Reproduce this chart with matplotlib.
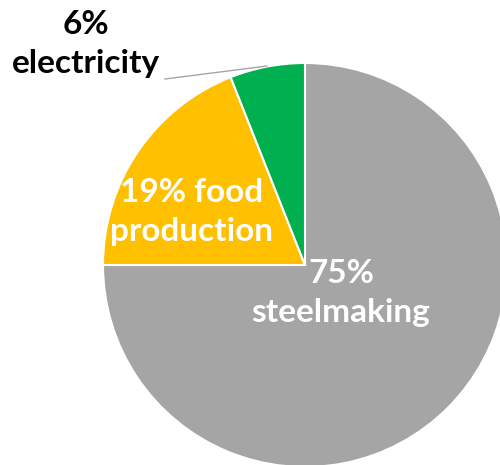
import matplotlib.pyplot as plt

labels = ["75%\nsteelmaking", "19% food\nproduction", "6%\nelectricity"]
shares = [75, 19, 6]
colors = ["#A5A5A5", "#FFC000", "#00B050"]

plt.rcParams['font.family'] = ['Lato', 'DejaVu Sans']

fig = plt.figure(figsize=(5, 4.65), dpi=100)
ax = fig.add_axes([0, 0, 1, 1])

cx, cy, r = 305, 200, 202
wedges, _ = ax.pie(shares, colors=colors, startangle=90, counterclock=False,
                   center=(cx, cy), radius=r, frame=True,
                   wedgeprops=dict(edgecolor='white', linewidth=1.5))
ax.set_xlim(0, 500)
ax.set_ylim(0, 465)
ax.set_aspect('equal')
ax.axis('off')

fs = 24
ls = 1.4
ax.text(341, 172, labels[0], color='white', fontsize=fs, fontweight='bold',
        ha='center', va='center', linespacing=ls)
ax.text(192, 253, labels[1], color='white', fontsize=fs, fontweight='bold',
        ha='center', va='center', linespacing=ls)
ax.text(86, 421, labels[2], color='black', fontsize=fs, fontweight='bold',
        ha='center', va='center', linespacing=ls)
# leader line for the small slice
ax.plot([165, 267], [386, 399], color='#A5A5A5', lw=1)

fig.savefig("out.png", dpi=100)
